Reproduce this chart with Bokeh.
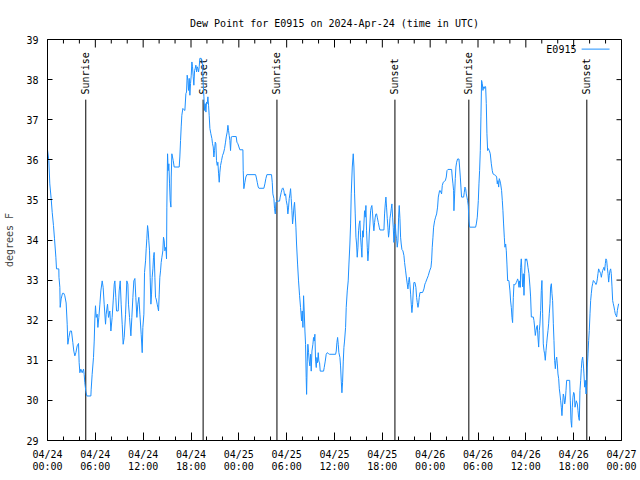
import calendar
import math
from datetime import datetime, timedelta

from bokeh.plotting import figure
from bokeh.models import (ColumnDataSource, FixedTicker, DatetimeTickFormatter,
                          Range1d, Label, Arrow)
from bokeh.core.properties import value
from bokeh.embed import file_html
from bokeh.resources import INLINE

# ---------------- data ----------------
START = datetime(2024, 4, 24)
STATION = "E0915"
TITLE = "Dew Point for E0915 on 2024-Apr-24 (time in UTC)"
Y_LABEL = "degrees F"

# hours after 04/24 00:00 UTC and dew point (deg F)
hours_a = [0.00,0.17,0.29,0.46,0.59,0.75,0.88,1.05,1.13,1.42,
           1.44,1.55,1.59,1.71,1.88,2.05,2.17,2.34,2.47,2.55,
           2.68,2.84,3.01,3.18,3.30,3.43,3.56,3.72,3.89,3.97,
           4.06,4.18,4.35,4.52,4.60,4.68,4.81,4.94,5.44,5.48,
           5.60,5.77,5.86,5.94,6.02,6.11,6.23,6.32,6.44,6.57,
           6.69,6.86,6.98,7.11,7.28,7.36,7.53,7.65,7.82,7.95,
           8.11,8.24,8.37,8.45,8.57,8.66,8.87,8.99,9.12,9.24,
           9.37,9.49,9.62,9.79,9.95,10.08,10.16,10.29,10.46,10.58,
           10.71,10.83,10.96,11.08,11.21,11.33,11.46,11.59,11.75,11.88,
           11.96]
dew_a = [36.25,35.98,35.40,35.03,34.69,34.36,34.03,33.57,33.28,33.28,
         33.07,32.82,32.32,32.53,32.67,32.67,32.61,32.43,31.90,31.40,
         31.57,31.73,31.73,31.44,31.23,31.11,31.19,31.36,31.42,30.94,
         30.69,30.78,30.69,30.78,30.65,30.44,30.22,30.11,30.11,30.28,
         30.65,31.07,31.48,32.03,32.36,32.07,32.15,31.82,32.07,32.40,
         32.73,32.98,32.82,32.40,31.90,32.15,32.40,32.07,32.23,31.73,
         32.07,32.48,32.90,32.98,32.57,32.23,32.23,32.73,32.98,32.40,
         31.90,31.40,31.57,32.15,32.98,32.90,32.40,32.07,31.61,32.07,
         32.57,32.98,33.04,32.57,32.07,32.40,32.57,32.15,31.65,31.19,
         31.82]

hours_b = [12.09,12.17,12.30,12.38,12.46,12.55,12.63,12.71,12.80,12.88,
           12.97,13.05,13.13,13.22,13.30,13.38,13.47,13.55,13.63,13.76,
           13.84,13.93,14.01,14.09,14.18,14.26,14.35,14.47,14.55,14.64,
           14.72,14.85,14.93,14.97,15.06,15.14,15.22,15.31,15.39,15.48,
           15.52,15.60,15.68,15.77,15.89,16.52,16.60,16.69,16.77,16.85,
           16.98,17.11,17.23,17.36,17.44,17.52,17.61,17.69,17.78,17.86,
           17.94,18.03,18.11,18.19,18.28,18.36,18.45,18.53,18.61,18.70,
           18.78,18.86,18.95,19.03,19.11,19.28,19.37,19.45,19.53,19.62,
           19.70,19.78,19.87,19.95,20.03,20.12,20.20,20.28,20.37,20.49,
           20.62,20.70,20.79,20.87,20.95,21.04,21.12,21.20,21.29,21.37,
           21.46,21.54,21.62,21.71,21.83,21.96,22.08,22.21,22.33,22.42,
           22.54,22.63,22.71,22.79,22.88,22.96,23.05,23.17,23.67,23.76,
           23.88,24.01,24.13]
dew_b = [32.15,33.19,33.48,33.78,34.03,34.36,34.23,33.98,33.73,33.07,
         32.40,32.65,33.07,33.28,33.57,33.69,33.07,32.57,32.53,32.40,
         32.32,32.23,32.65,33.07,33.23,33.44,33.57,33.73,34.07,33.98,
         33.73,33.82,33.53,34.82,36.15,35.73,35.90,35.40,34.98,34.82,
         35.57,36.15,36.07,35.98,35.82,35.82,36.07,36.48,36.82,37.11,
         37.28,37.25,37.23,37.65,37.69,38.11,37.98,37.73,38.03,37.61,
         37.90,38.11,38.44,38.32,38.07,37.86,38.23,38.28,38.36,38.19,
         38.32,38.28,38.19,38.32,38.53,38.53,38.48,38.40,37.90,37.57,
         37.23,37.40,37.19,37.44,37.40,37.57,37.36,37.11,36.78,36.65,
         36.53,36.40,36.32,36.07,36.23,36.44,36.40,35.98,35.86,35.94,
         35.65,35.44,35.69,35.86,35.98,36.11,36.17,36.28,36.44,36.57,
         36.69,36.86,36.73,36.61,36.48,36.23,36.57,36.58,36.58,36.44,
         36.40,36.32,36.25]

hours_c = [24.51,24.55,24.63,24.76,24.88,25.01,26.10,26.18,26.31,26.43,
           26.52,27.14,27.27,27.39,27.52,28.10,28.19,28.27,28.40,28.48,
           28.57,28.65,28.77,29.11,29.19,29.32,29.44,29.53,29.65,29.74,
           29.86,29.95,30.07,30.15,30.24,30.32,30.41,30.49,30.57,30.66,
           30.74,30.82,30.91,30.99,31.07,31.16,31.24,31.37,31.49,31.62,
           31.74,31.87,31.95,32.04,32.12,32.20,32.29,32.37,32.45,32.50,
           32.58,32.66,32.75,32.83,32.91,33.00,33.08,33.17,33.29,33.37,
           33.46,33.54,33.63,33.71,33.79,33.88,33.96,34.04,34.13,34.21,
           34.63,34.71,34.84,34.96,35.09,35.22,35.38]
dew_c = [36.25,35.73,35.28,35.44,35.57,35.63,35.63,35.57,35.44,35.32,
         35.29,35.29,35.40,35.53,35.63,35.63,35.44,35.15,35.03,34.78,
         34.65,34.94,34.97,34.97,35.07,35.19,35.28,35.30,35.23,35.11,
         35.15,34.98,34.86,34.65,34.82,35.03,35.15,35.28,35.03,34.73,
         34.40,34.57,34.82,34.94,34.65,34.32,33.90,33.40,32.98,32.61,
         32.32,31.98,32.23,31.82,32.61,32.23,31.73,31.40,30.57,30.15,
         30.98,31.40,31.19,30.98,30.86,31.15,30.73,31.23,31.40,31.57,
         31.48,31.65,30.98,30.82,31.07,30.94,31.19,30.98,30.94,30.73,
         30.73,30.82,30.98,31.15,31.19,31.17,31.15]

hours_d = [36.14,36.22,36.30,36.39,36.47,36.55,36.68,36.76,36.85,36.93,
           37.01,37.10,37.18,37.26,37.39,37.47,37.60,37.72,37.81,37.93,
           38.02,38.10,38.23,38.35,38.44,38.52,38.60,38.69,38.77,38.85,
           38.94,39.02,39.10,39.19,39.27,39.36,39.44,39.52,39.61,39.69,
           39.77,39.86,39.94,40.02,40.11,40.19,40.28,40.36,40.44,40.53,
           40.61,40.69,40.78,40.86,40.94,41.03,41.11,41.20,41.28,41.36,
           41.49,41.61,41.70,42.20,42.28,42.37,42.45,42.53,42.62,42.70,
           42.78,42.87,42.95,43.04,43.12,43.20,43.29,43.37,43.45,43.54,
           43.62,43.71,43.79,43.87,43.96,44.04,44.12,44.21,44.29,44.37,
           44.46,44.58,44.71,44.79,44.92,45.04,45.13,45.21,45.29,45.38,
           45.46,45.55,45.63,45.71,45.80,45.88,45.96,46.09,46.21,46.30,
           46.38,46.47,46.55,46.63,46.72,47.05,47.22,47.34]
dew_d = [31.15,31.23,31.44,31.57,31.40,31.19,31.07,30.86,30.48,30.19,
         30.44,30.98,31.32,31.48,31.82,32.32,32.73,32.98,33.40,33.90,
         34.40,35.15,35.82,36.15,35.82,35.15,34.65,34.07,33.90,33.57,
         33.82,34.23,34.40,34.48,34.07,33.82,33.57,34.23,34.07,34.40,
         34.73,34.57,34.86,34.23,33.82,33.48,33.73,34.15,34.40,34.73,
         34.82,34.86,34.65,34.40,34.23,34.44,34.57,34.65,34.65,34.57,
         34.44,34.32,34.25,34.25,34.65,34.90,35.07,34.82,34.53,34.32,
         34.07,34.23,34.53,34.65,34.78,34.90,34.57,34.32,33.94,34.19,
         34.40,34.15,34.03,33.82,33.98,34.57,34.86,34.53,34.07,33.90,
         33.76,33.73,33.61,33.44,33.23,33.03,32.90,32.78,32.94,33.07,
         32.90,32.65,32.40,32.19,32.40,32.73,32.94,32.94,32.82,32.57,
         32.44,32.32,32.40,32.57,32.69,32.69,32.78,32.90]

hours_e = [47.43,47.60,47.76,47.93,48.10,48.18,48.26,48.35,48.43,48.56,
           48.68,48.81,48.93,49.02,49.10,49.18,49.27,49.35,49.43,49.52,
           49.64,49.77,49.90,50.02,50.11,50.23,50.69,50.77,50.86,50.94,
           50.98,51.07,51.15,51.23,51.32,51.44,51.61,51.69,51.78,51.86,
           51.94,52.20,52.28,52.36,52.45,52.53,52.61,52.70,52.78,52.86,
           52.95,53.70,53.79,53.91,54.04,54.12,54.20,54.29,54.37,54.45,
           54.54,54.62,54.70,54.79,54.87,54.96,55.04,55.12,55.21,55.29,
           55.42,55.54,55.67,55.79,55.88,56.04,56.21,56.34,56.42,56.50,
           56.59,56.67,56.75,56.84,56.96,57.05,57.13,57.21,57.30,57.38,
           57.47,57.55,57.63,57.72,57.80,57.88,58.01,58.09,58.18,58.26,
           58.34,58.43,58.51,58.60,58.72,58.80,58.89,58.97,59.05,59.14,
           59.22,59.31]
dew_e = [32.94,33.03,33.11,33.23,33.32,33.48,33.82,34.07,34.32,34.48,
         34.57,34.65,34.82,35.07,35.15,35.23,35.23,35.19,35.15,35.36,
         35.44,35.46,35.48,35.57,35.73,35.76,35.76,35.57,35.40,35.23,
         34.73,35.15,35.53,35.82,35.94,36.02,36.02,35.82,35.57,35.32,
         35.07,35.07,35.19,35.32,35.28,35.15,35.07,34.98,34.86,34.48,
         34.32,34.32,34.40,34.57,34.98,35.40,35.73,36.23,37.07,37.98,
         37.90,37.73,37.82,37.78,37.83,37.82,37.40,36.65,36.23,36.28,
         36.23,36.15,35.90,35.73,35.65,35.63,35.61,35.57,35.40,35.48,
         35.32,35.53,35.48,35.40,35.23,34.98,34.73,34.40,34.07,33.82,
         33.90,33.73,33.40,32.98,33.00,32.98,32.73,32.48,32.32,32.07,
         31.94,32.57,32.90,32.88,32.90,32.94,32.98,33.03,32.98,32.82,
         32.98,32.82]

hours_f = [59.35,59.43,59.52,59.60,59.68,59.77,59.85,59.93,60.02,60.10,
           60.18,60.27,60.39,60.52,60.60,60.69,60.94,61.02,61.10,61.19,
           61.27,61.36,61.44,61.52,61.61,61.69,61.77,61.86,61.94,62.02,
           62.11,62.19,62.28,62.36,62.44,62.53,62.61,62.69,62.78,62.86,
           62.94,63.03,63.11,63.20,63.28,63.36,63.45,63.53,63.61,63.70,
           63.78,63.87,63.95,64.03,64.12,64.20,64.28,64.37,64.45,64.53,
           64.62,64.70,64.79,64.87,64.95,65.04,65.12,65.50,65.58,65.66,
           65.75,65.83,65.91,66.00,66.08,66.17,66.25,66.33,66.46,66.54,
           66.62,66.71,66.79,66.88,66.96,67.04,67.13,67.21,67.29,67.38,
           67.46,67.55,67.63,67.71,67.80,67.88,67.96,68.05,68.13,68.21,
           68.30,68.38,68.47,68.63,68.80,68.88,68.97,69.05,69.13,69.22,
           69.30,69.39,69.47,69.55,69.64,69.72,69.80,69.89,69.97,70.05,
           70.14,70.22,70.31,70.39,70.47,70.56,70.64,70.72,70.81,70.89,
           70.97,71.06,71.14,71.22,71.31,71.39,71.48,71.56,71.64]
dew_f = [33.32,33.53,33.16,32.83,33.16,32.62,33.16,33.53,33.49,33.53,
         33.45,33.32,33.16,32.83,32.58,32.08,32.08,31.99,31.83,31.62,
         31.74,31.83,31.87,31.58,31.33,31.74,31.91,32.24,32.74,32.99,
         32.16,31.41,31.24,31.16,31.00,31.24,31.41,31.58,31.74,31.91,
         32.16,32.41,32.83,32.91,32.66,32.49,31.91,31.49,31.00,30.79,
         31.00,31.08,30.91,30.66,30.54,30.29,30.16,29.99,29.83,29.62,
         29.91,30.16,30.08,29.91,29.99,30.25,30.50,30.50,29.99,29.50,
         29.33,29.83,30.08,30.20,30.16,29.83,29.91,29.99,29.91,29.75,
         29.58,29.50,30.25,30.50,30.79,31.00,31.08,30.91,30.66,30.33,
         30.50,30.16,30.41,30.83,31.16,31.49,31.74,32.16,32.49,32.66,
         32.83,32.91,32.99,32.95,32.89,32.93,33.03,33.16,33.28,33.24,
         33.20,33.16,33.07,33.16,33.24,33.28,33.32,33.24,33.41,33.53,
         33.49,33.32,33.16,32.95,33.12,33.24,33.28,33.16,32.83,32.49,
         32.41,32.33,32.24,32.16,32.12,32.08,32.24,32.33,32.41]

# sunrise / sunset (hours after 04/24 00:00 UTC)
sunrise_hours = [4.80, 28.78, 52.85]
sunset_hours = [19.52, 43.58, 67.65]

# axis ticks
y_ticks = [29, 30, 31, 32, 33, 34, 35, 36, 37, 38, 39]
x_major_hours = [0, 6, 12, 18, 24, 30, 36, 42, 48, 54, 60, 66, 72]
x_minor_hours = [h for h in range(0, 73, 2) if h % 6 != 0]

# ---------------- styling ----------------
BLUE = "#1e90ff"
FONT = "DejaVu Sans Mono"
FS = "10px"
EVENT_LINE_TOP = 37.5
EVENT_LABEL_Y = 37.63
W, H = 640, 480
BL, BR, BT, BB = 47, 19, 39, 40
FRAME_W, FRAME_H = W - BL - BR, H - BT - BB
X_MAJ_TICK, X_MIN_TICK, Y_TICK = 8, 4, 5


def to_dt(h):
    return START + timedelta(hours=h)


def to_ms(h):
    return calendar.timegm(to_dt(h).timetuple()) * 1000.0


hours = hours_a + hours_b + hours_c + hours_d + hours_e + hours_f
dew = dew_a + dew_b + dew_c + dew_d + dew_e + dew_f
assert len(hours) == len(dew)

y0, y1 = y_ticks[0], y_ticks[-1]
h0, h1 = x_major_hours[0], x_major_hours[-1]
y_per_px = (y1 - y0) / FRAME_H
h_per_px = (h1 - h0) / FRAME_W

src = ColumnDataSource(dict(t=[to_dt(h) for h in hours], dew=dew))

ev_hours = sunrise_hours + sunset_hours
ev_names = ["Sunrise"] * len(sunrise_hours) + ["Sunset"] * len(sunset_hours)
ev_src = ColumnDataSource(dict(
    t=[to_dt(h) for h in ev_hours],
    y0=[y0] * len(ev_hours),
    y1=[EVENT_LINE_TOP] * len(ev_hours),
    ylab=[EVENT_LABEL_Y] * len(ev_hours),
    name=ev_names,
))

p = figure(width=W, height=H, x_axis_type="datetime",
           output_backend="svg", toolbar_location=None,
           x_range=Range1d(to_dt(h0), to_dt(h1)),
           y_range=Range1d(y0, y1),
           min_border_left=BL, min_border_right=BR,
           min_border_top=BT, min_border_bottom=BB,
           title=TITLE)

p.title.text_font = FONT
p.title.text_font_size = FS
p.title.text_font_style = "normal"
p.title.align = "center"
p.title.text_color = "black"
p.title.standoff = 22

p.grid.visible = False
p.outline_line_color = "black"
p.outline_line_width = 1
p.background_fill_color = "white"
p.border_fill_color = "white"

fmt_str = "%m/%d\n%H:%M"
fmt = DatetimeTickFormatter(microseconds=fmt_str, milliseconds=fmt_str, seconds=fmt_str,
                            minsec=fmt_str, minutes=fmt_str, hourmin=fmt_str,
                            hours=fmt_str, days=fmt_str, months=fmt_str, years=fmt_str)
try:
    fmt.strip_leading_zeros = False
except Exception:
    pass

x_ticker = FixedTicker(ticks=[to_ms(h) for h in x_major_hours],
                       minor_ticks=[to_ms(h) for h in x_minor_hours])
y_ticker = FixedTicker(ticks=y_ticks, minor_ticks=[])


def style_axis(ax, major_in, minor_in):
    ax.axis_line_color = "black"
    ax.major_tick_line_color = "black"
    ax.minor_tick_line_color = "black"
    ax.major_tick_in = major_in
    ax.major_tick_out = 0
    ax.minor_tick_in = minor_in
    ax.minor_tick_out = 0
    ax.major_label_text_font = FONT
    ax.major_label_text_font_size = FS
    ax.major_label_text_color = "black"


xa = p.xaxis[0]
xa.ticker = x_ticker
xa.formatter = fmt
style_axis(xa, X_MAJ_TICK, X_MIN_TICK)
xa.major_label_standoff = 8
xa.major_label_text_line_height = 1.15

ya = p.yaxis[0]
ya.ticker = y_ticker
style_axis(ya, Y_TICK, 0)
ya.major_label_standoff = 9
ya.axis_label = Y_LABEL
ya.axis_label_text_font = FONT
ya.axis_label_text_font_size = FS
ya.axis_label_text_font_style = "normal"
ya.axis_label_standoff = 8

# mirrored ticks on the top and right edges (gnuplot "mirror" style)
top_major = [to_dt(h) for h in x_major_hours]
top_minor = [to_dt(h) for h in x_minor_hours]
p.segment(x0=top_major, y0=[y1] * len(top_major), x1=top_major,
          y1=[y1 - X_MAJ_TICK * y_per_px] * len(top_major), line_color="black", line_width=1)
p.segment(x0=top_minor, y0=[y1] * len(top_minor), x1=top_minor,
          y1=[y1 - X_MIN_TICK * y_per_px] * len(top_minor), line_color="black", line_width=1)
p.segment(x0=[to_dt(h1)] * len(y_ticks), y0=y_ticks,
          x1=[to_dt(h1 - Y_TICK * h_per_px)] * len(y_ticks), y1=y_ticks,
          line_color="black", line_width=1)

# sunrise / sunset markers
p.segment(x0="t", y0="y0", x1="t", y1="y1", source=ev_src, line_color="black", line_width=1)
p.text(x="t", y="ylab", text="name", source=ev_src, angle=math.pi / 2,
       text_align="left", text_baseline="middle",
       text_font=value(FONT), text_font_size=value(FS), text_color="black")

# series
p.line(x="t", y="dew", source=src, line_color=BLUE, line_width=1)

# key (text then sample line, as in the original)
p.add_layout(Label(x=to_ms(66.35), y=38.76, text=STATION, text_align="right",
                   text_baseline="middle", text_font=FONT, text_font_size=FS,
                   text_color="black"))
p.add_layout(Arrow(end=None, x_start=to_ms(67.0), y_start=38.76,
                   x_end=to_ms(70.5), y_end=38.76, line_color=BLUE, line_width=1))

open("out.html", "w").write(file_html(p, INLINE))
